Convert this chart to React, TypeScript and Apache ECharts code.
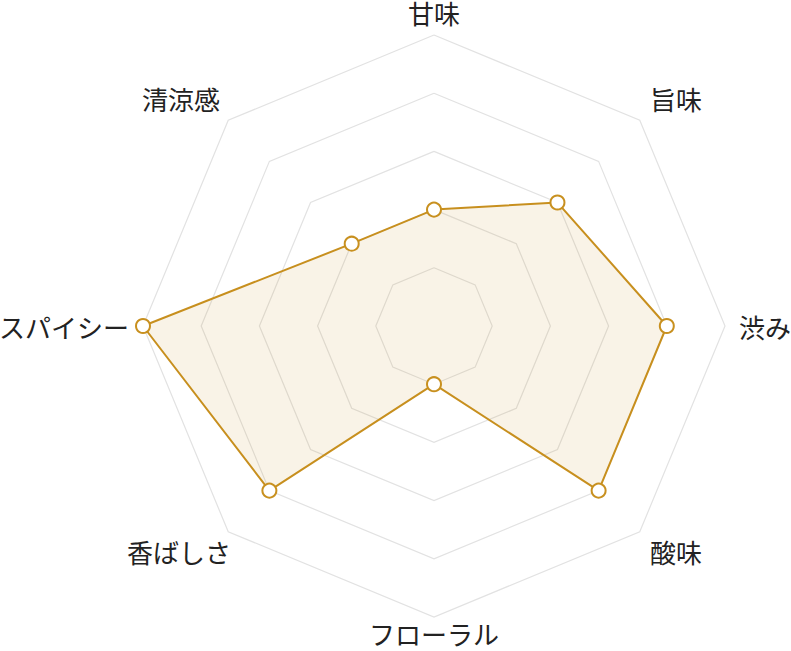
import React, { useEffect, useRef } from "react";
import * as echarts from "echarts";

// Indicators in ECharts order (counter-clockwise from top)
const indicatorNames = ["甘味", "清涼感", "スパイシー", "香ばしさ", "フローラル", "酸味", "渋み", "旨味"];
const values = [2, 2, 5, 4, 1, 4, 4, 3];
const maxValue = 5;

function labelClass(i: number, n: number): string {
  const ang = 90 + (i * 360) / n; // degrees, counter-clockwise from top
  const s = Math.sin((ang * Math.PI) / 180);
  const c = Math.cos((ang * Math.PI) / 180);
  if (Math.abs(s) > 0.99) return s > 0 ? "top" : "bottom";
  if (Math.abs(s) < 0.01) return "side";
  if (s > 0) return c < 0 ? "upperLeft" : "upperRight";
  return c < 0 ? "lowerLeft" : "lowerRight";
}

export default function App() {
  const ref = useRef<HTMLDivElement>(null);
  useEffect(() => {
    document.body.style.margin = "0";
    const chart = echarts.init(ref.current!, null, { renderer: "svg" });
    const base = { fontSize: 26, color: "#222", fontFamily: "Noto Sans CJK JP", lineHeight: 26 };
    chart.setOption({
      animation: false,
      radar: {
        center: [434, 326],
        radius: 291,
        splitNumber: 5,
        shape: "polygon",
        indicator: indicatorNames.map((n) => ({ name: n, max: maxValue, min: 0 })),
        nameGap: -4,
        axisName: {
          color: "#222",
          fontSize: 26,
          fontFamily: "Noto Sans CJK JP",
          formatter: (name: string) => {
            const i = indicatorNames.indexOf(name);
            return `{${labelClass(i, indicatorNames.length)}|${name}}`;
          },
          rich: {
            top: { ...base, padding: [0, 0, 27, 0] },
            bottom: { ...base, padding: [14, 0, 0, 0] },
            side: { ...base, padding: [0, 18, 0, 18] },
            upperLeft: { ...base, padding: [0, 11, 50, 0] },
            upperRight: { ...base, padding: [0, 0, 50, 13] },
            lowerLeft: { ...base, padding: [45, 0, 0, 0] },
            lowerRight: { ...base, padding: [45, 0, 0, 13] },
          },
        },
        axisLine: { show: false },
        axisTick: { show: false },
        axisLabel: { show: false },
        splitArea: { show: false },
        splitLine: { lineStyle: { color: "#e2e2e2", width: 1.2 } },
      },
      series: [
        {
          type: "radar",
          symbol: "circle",
          symbolSize: 14,
          itemStyle: { color: "#fff", borderColor: "#c8901f", borderWidth: 2 },
          lineStyle: { color: "#c8901f", width: 2 },
          areaStyle: { color: "rgba(200,144,31,0.15)" },
          data: [{ value: values, name: "味" }],
        },
      ],
    });
    return () => chart.dispose();
  }, []);
  return <div ref={ref} style={{ width: 791, height: 651 }} />;
}
